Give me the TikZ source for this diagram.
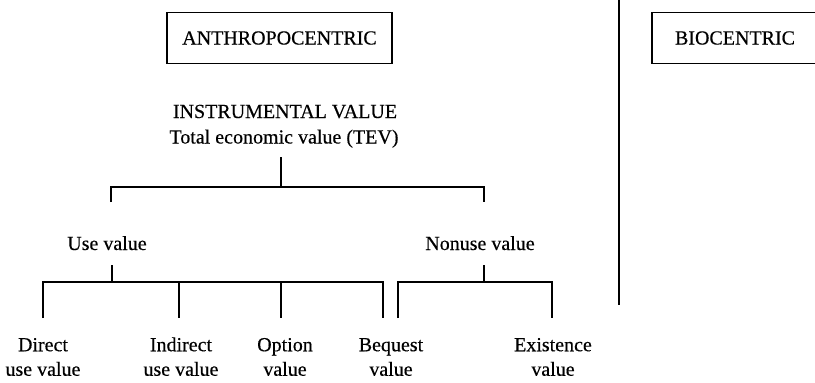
\documentclass[tikz,border=0pt]{standalone}
\usepackage{fontspec}
\setmainfont{Liberation Serif}[FakeBold=0.4]
\begin{document}
\begin{tikzpicture}[x=1pt,y=-1pt,line width=1.2pt,
  txt/.style={font=\fontsize{20}{24.5}\selectfont,inner sep=0pt,anchor=base},
  leaf/.style={font=\fontsize{20}{24.5}\selectfont,inner sep=0pt,align=center,anchor=north},
  frame/.style={draw,line width=1.1pt,font=\fontsize{20}{24}\selectfont,inner sep=0pt,minimum height=51pt}]
\useasboundingbox (0,0) rectangle (815,383);
% boxes
\node[frame,minimum width=225pt] (anthro) at (279.5,38) {ANTHROPOCENTRIC};
\node[frame,minimum width=166pt] (bio) at (735,38) {BIOCENTRIC};
% divider
\coordinate (dtop) at (619,0);
\coordinate (dbot) at (619,305);
\draw (dtop) -- (dbot);
% texts
\node[txt] (instr) at (285,118) {INSTRUMENTAL VALUE};
\node[txt] (tev) at (284,143.5) {Total economic value (TEV)};
\node[txt] (use) at (107,250) {Use value};
\node[txt] (nonuse) at (480,250) {Nonuse value};
\node[leaf] (direct) at (43,333.5) {\strut Direct\\use value};
\node[leaf] (indirect) at (181,333.5) {\strut Indirect\\use value};
\node[leaf] (option) at (285,333.5) {\strut Option\\value};
\node[leaf] (bequest) at (391,333.5) {\strut Bequest\\value};
\node[leaf] (existence) at (553,333.5) {\strut Existence\\value};
% TEV bracket
\coordinate (tevtick) at (281,157);
\coordinate (bigM) at (281,187);
\coordinate (bigL) at (111,187);
\coordinate (bigR) at (484,187);
\coordinate (bigLd) at (111,202);
\coordinate (bigRd) at (484,202);
\draw (tevtick) -- (bigM);
\draw (bigLd) -- (bigL) -- (bigR) -- (bigRd);
% use value bracket
\coordinate (usetick) at (112,265);
\coordinate (useM) at (112,282);
\coordinate (u1) at (43,282);
\coordinate (u2) at (179,282);
\coordinate (u3) at (281,282);
\coordinate (u4) at (383,282);
\coordinate (u1d) at (43,318);
\coordinate (u2d) at (179,318);
\coordinate (u3d) at (281,318);
\coordinate (u4d) at (383,318);
\draw (usetick) -- (useM);
\draw (u1d) -- (u1) -- (u4) -- (u4d);
\draw (u2) -- (u2d);
\draw (u3) -- (u3d);
% nonuse bracket
\coordinate (ntick) at (484,265);
\coordinate (nM) at (484,282);
\coordinate (n1) at (398,282);
\coordinate (n2) at (552,282);
\coordinate (n1d) at (398,318);
\coordinate (n2d) at (552,318);
\draw (ntick) -- (nM);
\draw (n1d) -- (n1) -- (n2) -- (n2d);
\end{tikzpicture}
\end{document}
